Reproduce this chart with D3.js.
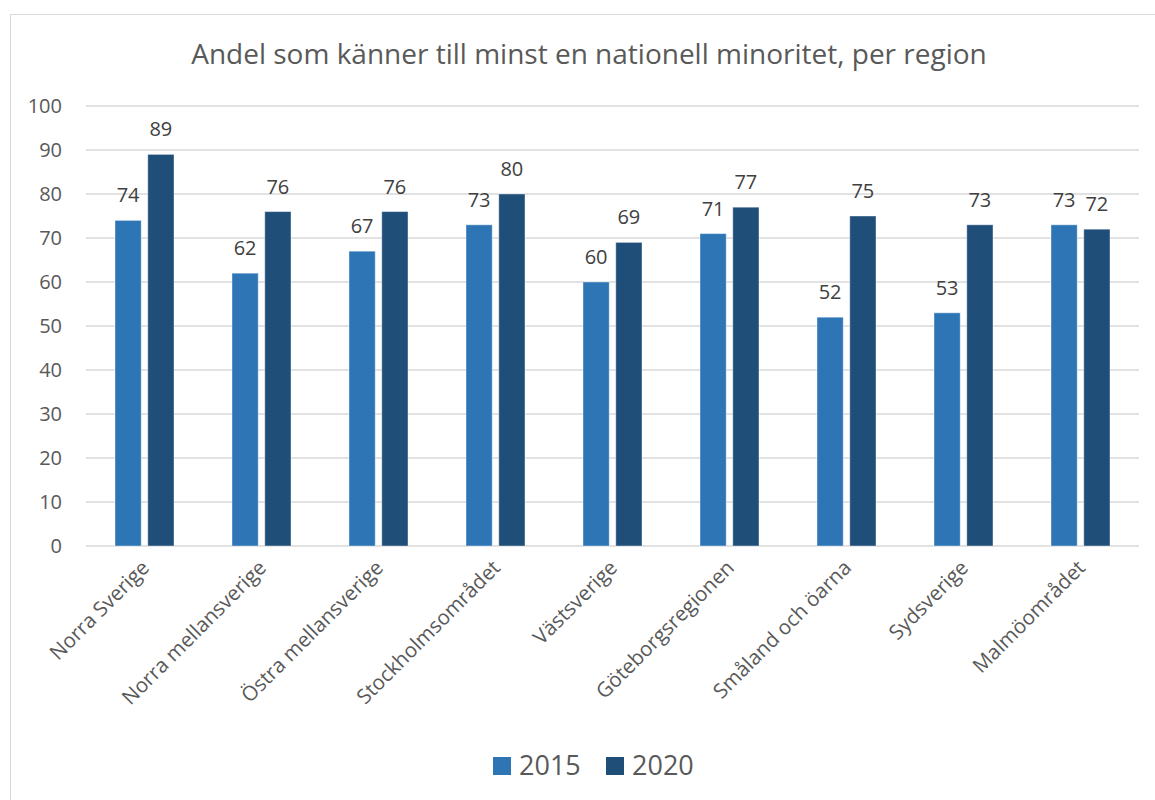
<!DOCTYPE html>
<html>
<head>
<meta charset="utf-8">
<script src="https://cdn.jsdelivr.net/npm/d3@7"></script>
<style>
  body { margin: 0; background: #fff; }
  text { font-family: "Open Sans", sans-serif; }
</style>
</head>
<body>
<script>
// Andel som känner till minst en nationell minoritet, per region

var regions = ["Norra Sverige", "Norra mellansverige", "Östra mellansverige", "Stockholmsområdet",
  "Västsverige", "Göteborgsregionen", "Småland och öarna", "Sydsverige", "Malmöområdet"];
var years = ["2015", "2020"];
var values2015 = [74, 62, 67, 73, 60, 71, 52, 53, 73];
var values2020 = [89, 76, 76, 80, 69, 77, 75, 73, 72];
var yTicks = [0, 10, 20, 30, 40, 50, 60, 70, 80, 90, 100];
var colors = ["#2E75B6", "#1F4E79"];

var width = 1155, height = 800;
var plot = {left: 86, right: 1139, top: 106, bottom: 546};

var svg = d3.select("body").append("svg")
    .attr("width", width)
    .attr("height", height);

// chart frame
svg.append("rect")
    .attr("x", 10.5).attr("y", 14.5)
    .attr("width", 1200).attr("height", 900)
    .attr("fill", "#fff")
    .attr("stroke", "#d9d9d9");

svg.append("text")
    .attr("x", 589).attr("y", 64)
    .attr("text-anchor", "middle")
    .style("font-size", "28px")
    .style("fill", "#595959")
    .text("Andel som känner till minst en nationell minoritet, per region");

var xScale = d3.scaleBand().domain(regions).range([plot.left, plot.right]);
var xInner = d3.scaleBand().domain(years).range([0, 59]).paddingInner(0.2);
var yScale = d3.scaleLinear().domain([0, 100]).range([plot.bottom, plot.top]);

// gridlines
svg.selectAll(".grid")
    .data(yTicks)
    .enter().append("line")
    .attr("x1", plot.left).attr("x2", plot.right)
    .attr("y1", function(d) { return yScale(d); })
    .attr("y2", function(d) { return yScale(d); })
    .attr("stroke", "#d9d9d9")
    .attr("stroke-width", 1.5);

// y axis labels
var yAxis = d3.axisLeft(yScale).tickValues(yTicks).tickSize(0).tickPadding(0);
var yg = svg.append("g")
    .attr("transform", "translate(62,0)")
    .call(yAxis);
yg.select(".domain").remove();
yg.selectAll("text")
    .style("font-size", "20px")
    .style("fill", "#595959")
    .attr("font-family", null);

var series = [values2015, values2020];

series.forEach(function(vals, s) {
    var offset = function(d, i) {
        return xScale(regions[i]) + (xScale.bandwidth() - 59) / 2 + xInner(years[s]);
    };
    svg.selectAll(".bar" + s)
        .data(vals)
        .enter().append("rect")
        .attr("x", offset)
        .attr("y", function(d) { return yScale(d); })
        .attr("width", xInner.bandwidth())
        .attr("height", function(d) { return yScale(0) - yScale(d); })
        .attr("fill", colors[s])
        .attr("stroke", "#fff")
        .attr("stroke-opacity", 0.4)
        .attr("stroke-width", 1);

    svg.selectAll(".lab" + s)
        .data(vals)
        .enter().append("text")
        .attr("x", function(d, i) { return offset(d, i) + xInner.bandwidth() / 2; })
        .attr("y", function(d) { return yScale(d) - 18; })
        .attr("text-anchor", "middle")
        .style("font-size", "20px")
        .style("fill", "#404040")
        .text(function(d) { return d; });
});

// x axis category labels
svg.selectAll(".xlab")
    .data(regions)
    .enter().append("text")
    .attr("transform", function(d) {
        return "translate(" + (xScale(d) + xScale.bandwidth() / 2 + 6) + "," + 569 + ") rotate(-45)";
    })
    .attr("text-anchor", "end")
    .style("font-size", "20.5px")
    .style("fill", "#595959")
    .text(function(d) { return d; });

// legend
var legendX = [493, 606];
years.forEach(function(y, i) {
    svg.append("rect")
        .attr("x", legendX[i]).attr("y", 757)
        .attr("width", 18).attr("height", 18)
        .attr("fill", colors[i]);
    svg.append("text")
        .attr("x", legendX[i] + 26).attr("y", 775)
        .style("font-size", "27px")
        .style("fill", "#595959")
        .text(y);
});
</script>
</body>
</html>
